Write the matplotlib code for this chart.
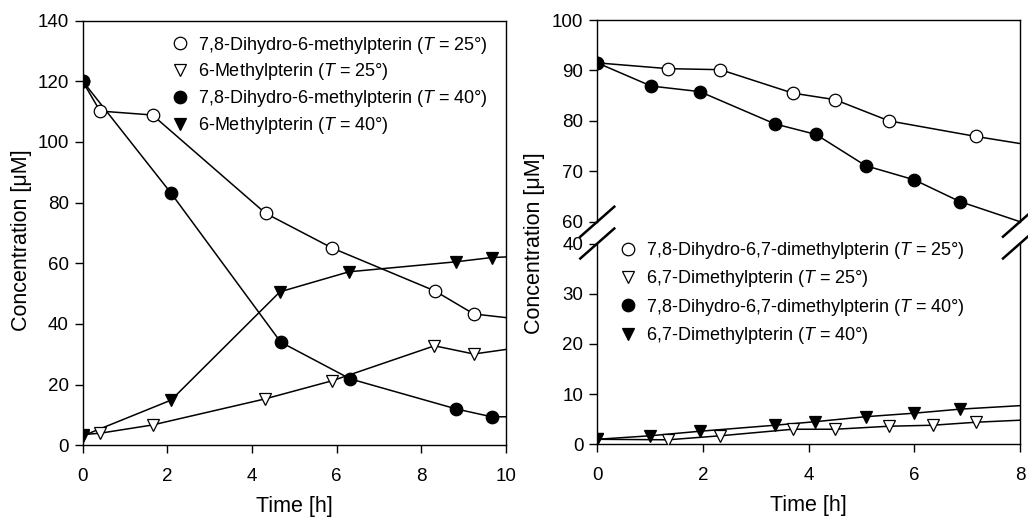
import numpy as np
import matplotlib.pyplot as plt
from matplotlib.lines import Line2D

plt.rcParams['font.family'] = ['Liberation Sans', 'DejaVu Sans']
plt.rcParams['mathtext.fontset'] = 'custom'
plt.rcParams['mathtext.rm'] = 'Liberation Sans'
plt.rcParams['mathtext.it'] = 'Liberation Sans:italic'

# left panel: 6-methylpterin system (x end of line = 10 h)
t_dh6_25 = [0, 0.41, 1.65, 4.32, 5.9, 8.32, 9.24]
c_dh6_25 = [120, 110.2, 108.9, 76.5, 65, 50.9, 43.3]
t_m6_25 = [0, 0.42, 1.65, 4.31, 5.9, 8.31, 9.24]
c_m6_25 = [3.5, 4.0, 6.7, 15.3, 21.3, 32.8, 30.1]
t_dh6_40 = [0, 2.09, 4.68, 6.32, 8.82, 9.66]
c_dh6_40 = [120.1, 83.1, 34.0, 21.9, 12.0, 9.4]
t_m6_40 = [0, 2.09, 4.66, 6.29, 8.82, 9.66]
c_m6_40 = [3.1, 14.9, 50.6, 57.2, 60.5, 61.9]
end_left = [42.1, 31.6, 9.4, 62.1]   # line values at t = 10

labels_left = ['7,8-Dihydro-6-methylpterin ($T$ = 25°)',
               '6-Methylpterin ($T$ = 25°)',
               '7,8-Dihydro-6-methylpterin ($T$ = 40°)',
               '6-Methylpterin ($T$ = 40°)']

# right panel: 6,7-dimethylpterin system (x end of line = 8 h)
t_dh67_25 = [0, 1.34, 2.33, 3.70, 4.50, 5.52, 7.17]
c_dh67_25 = [91.5, 90.35, 90.15, 85.5, 84.2, 80.0, 76.9]
t_m67_25 = [0, 1.34, 2.33, 3.70, 4.50, 5.52, 6.35, 7.17]
c_m67_25 = [1.0, 0.9, 1.7, 3.0, 3.0, 3.6, 3.8, 4.4]
t_dh67_40 = [0, 1.02, 1.94, 3.36, 4.14, 5.08, 6.0, 6.86]
c_dh67_40 = [91.5, 86.9, 85.8, 79.4, 77.3, 71.1, 68.3, 64.0]
t_m67_40 = [0, 1.0, 1.94, 3.36, 4.12, 5.08, 6.0, 6.86]
c_m67_40 = [1.0, 1.7, 2.6, 3.8, 4.5, 5.5, 6.2, 7.0]
end_right = [75.5, 4.8, 60.0, 7.7]

labels_right = ['7,8-Dihydro-6,7-dimethylpterin ($T$ = 25°)',
                '6,7-Dimethylpterin ($T$ = 25°)',
                '7,8-Dihydro-6,7-dimethylpterin ($T$ = 40°)',
                '6,7-Dimethylpterin ($T$ = 40°)']

styles = [dict(marker='o', mfc='white'), dict(marker='v', mfc='white'),
          dict(marker='o', mfc='black'), dict(marker='v', mfc='black')]
msizes = [9, 8.5, 9, 8.5]


def draw(ax, t, c, tend, cend, st, ms, label=None):
    ax.plot(np.append(t, tend), np.append(c, cend), color='black', lw=1.1, zorder=2)
    ax.plot(t, c, ls='none', mec='black', mew=0.9, ms=ms, label=label, zorder=3, **st)


def style_ax(ax):
    for s in ax.spines.values():
        s.set_linewidth(1.0)
    ax.tick_params(direction='out', length=5.5, width=1.0, labelsize=13.5, right=False, top=False)
    ax.tick_params(axis='x', pad=10.5)
    ax.tick_params(axis='y', pad=4.5)


fig = plt.figure(figsize=(10.28, 5.17), dpi=100)

# ---- left panel
ax1 = fig.add_axes([0.0804, 0.1387, 0.4118, 0.8213])
series_l = [(t_dh6_25, c_dh6_25), (t_m6_25, c_m6_25), (t_dh6_40, c_dh6_40), (t_m6_40, c_m6_40)]
for i, (t, c) in enumerate(series_l):
    draw(ax1, t, c, 10, end_left[i], styles[i], msizes[i], labels_left[i])
ax1.set_xlim(0, 10)
ax1.set_ylim(0, 140)
ax1.set_xticks([0, 2, 4, 6, 8, 10])
ax1.set_yticks(range(0, 141, 20))
style_ax(ax1)
ax1.set_xlabel('Time [h]', fontsize=15.5, labelpad=8.5)
fig.text(0.0214, 0.536, 'Concentration [μM]', rotation=90, fontsize=15.5, ha='center', va='center')
ax1.legend(loc='upper left', bbox_to_anchor=(0.18, 0.995), frameon=False, fontsize=13,
           handlelength=1.0, handletextpad=0.5, labelspacing=0.33, borderaxespad=0.25)

# ---- right panel (broken y axis)
ax_top = fig.add_axes([0.5810, 0.5712, 0.4112, 0.3901])
ax_bot = fig.add_axes([0.5810, 0.1406, 0.4112, 0.3884])
series_r = [(t_dh67_25, c_dh67_25), (t_m67_25, c_m67_25), (t_dh67_40, c_dh67_40), (t_m67_40, c_m67_40)]
for i, (t, c) in enumerate(series_r):
    target = ax_top if i in (0, 2) else ax_bot
    draw(target, t, c, 8, end_right[i], styles[i], msizes[i])
for ax in (ax_top, ax_bot):
    ax.set_xlim(0, 8)
    style_ax(ax)
ax_top.set_ylim(60, 100)
ax_top.set_yticks(range(60, 101, 10))
ax_top.spines['bottom'].set_visible(False)
ax_top.tick_params(bottom=False, labelbottom=False)
ax_bot.spines['top'].set_visible(False)
ax_bot.set_ylim(0, 40)
ax_bot.set_yticks(range(0, 41, 10))
ax_bot.set_xticks([0, 2, 4, 6, 8])
ax_bot.set_xlabel('Time [h]', fontsize=15.5, labelpad=8.5)
fig.text(0.5195, 0.530, 'Concentration [μM]', rotation=90, fontsize=15.5, ha='center', va='center')

handles = [Line2D([], [], ls='none', mec='black', mew=0.9, ms=msizes[i], **styles[i]) for i in range(4)]
ax_bot.legend(handles, labels_right, loc='upper left', bbox_to_anchor=(0.023, 1.075), frameon=False,
              fontsize=13, handlelength=1.0, handletextpad=0.5, labelspacing=0.4, borderaxespad=0.25)

# break marks
W, H = 1028, 517
for xs in (597.3, 1020):
    for ys in (221.7, 243.5):
        fig.add_artist(Line2D([(xs - 17) / W, (xs + 17) / W], [1 - (ys + 15) / H, 1 - (ys - 15) / H],
                              color='black', lw=1.8))

fig.savefig('out.png', dpi=100)
